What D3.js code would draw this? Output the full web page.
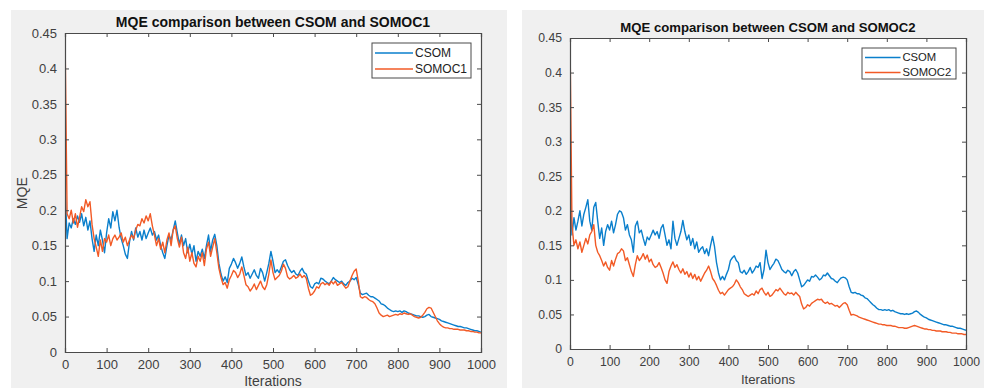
<!DOCTYPE html>
<html>
<head>
<meta charset="utf-8">
<script src="https://cdn.jsdelivr.net/npm/d3@7"></script>
<style>
  html, body { margin: 0; padding: 0; background: #fff; }
  svg { display: block; font-family: "Liberation Sans", Arial, sans-serif; }
</style>
</head>
<body>
<svg id="chart" width="984" height="388"></svg>
<script>
// Iteration index of every stored sample (one every 5 iterations)
const iterations = d3.range(0, 1001, 5);

const xTicks = [0, 100, 200, 300, 400, 500, 600, 700, 800, 900, 1000];
const yTicks = [0, 0.05, 0.1, 0.15, 0.2, 0.25, 0.3, 0.35, 0.4, 0.45];
const yTickLabels = ["0", "0.05", "0.1", "0.15", "0.2", "0.25", "0.3", "0.35", "0.4", "0.45"];

// Panel 1 - CSOM
const csom1 = [
  0.232, 0.160, 0.182, 0.175, 0.188, 0.180, 0.192, 0.183, 0.195, 0.178,
  0.190, 0.172, 0.185, 0.160, 0.142, 0.165, 0.150, 0.172, 0.158, 0.140,
  0.168, 0.188, 0.175, 0.198, 0.185, 0.200, 0.176, 0.160, 0.150, 0.138,
  0.132, 0.155, 0.170, 0.158, 0.175, 0.162, 0.170, 0.158, 0.172, 0.160,
  0.168, 0.175, 0.165, 0.170, 0.158, 0.165, 0.150, 0.140, 0.132, 0.150,
  0.165, 0.158, 0.172, 0.185, 0.168, 0.152, 0.165, 0.150, 0.160, 0.140,
  0.152, 0.138, 0.150, 0.128, 0.142, 0.135, 0.145, 0.132, 0.150, 0.165,
  0.142, 0.158, 0.166, 0.150, 0.125, 0.110, 0.100, 0.106, 0.098, 0.118,
  0.124, 0.132, 0.126, 0.118, 0.125, 0.134, 0.120, 0.108, 0.112, 0.104,
  0.110, 0.116, 0.108, 0.104, 0.118, 0.112, 0.100, 0.112, 0.125, 0.142,
  0.128, 0.112, 0.116, 0.112, 0.120, 0.128, 0.130, 0.122, 0.116, 0.112,
  0.115, 0.110, 0.108, 0.114, 0.118, 0.112, 0.110, 0.100, 0.092, 0.090,
  0.096, 0.098, 0.096, 0.104, 0.103, 0.100, 0.098, 0.096, 0.100, 0.105,
  0.102, 0.100, 0.098, 0.100, 0.096, 0.094, 0.098, 0.100, 0.104, 0.102,
  0.105, 0.095, 0.083, 0.081, 0.082, 0.083, 0.080, 0.078, 0.078, 0.076,
  0.074, 0.072, 0.068, 0.067, 0.065, 0.062, 0.060, 0.058, 0.057, 0.058,
  0.057, 0.058, 0.056, 0.058, 0.057, 0.055, 0.054, 0.053, 0.052, 0.051,
  0.051, 0.050, 0.049, 0.050, 0.052, 0.053, 0.050, 0.049, 0.048, 0.047,
  0.046, 0.044, 0.043, 0.042, 0.041, 0.040, 0.039, 0.038, 0.037, 0.036,
  0.036, 0.035, 0.034, 0.034, 0.033, 0.032, 0.031, 0.030, 0.030, 0.029,
  0.028
];

// Panel 1 - SOMOC1
const somoc1 = [
  0.450, 0.195, 0.188, 0.200, 0.182, 0.195, 0.176, 0.190, 0.205, 0.198,
  0.215, 0.205, 0.212, 0.180, 0.160, 0.148, 0.135, 0.158, 0.142, 0.160,
  0.155, 0.165, 0.150, 0.160, 0.165, 0.158, 0.162, 0.168, 0.155, 0.162,
  0.150, 0.158, 0.165, 0.160, 0.172, 0.180, 0.178, 0.188, 0.182, 0.192,
  0.185, 0.195, 0.178, 0.165, 0.150, 0.160, 0.145, 0.155, 0.140, 0.158,
  0.168, 0.150, 0.172, 0.178, 0.160, 0.148, 0.162, 0.140, 0.132, 0.148,
  0.128, 0.140, 0.125, 0.120, 0.135, 0.128, 0.140, 0.122, 0.145, 0.155,
  0.135, 0.148, 0.160, 0.140, 0.118, 0.105, 0.095, 0.098, 0.090, 0.102,
  0.108, 0.115, 0.112, 0.105, 0.110, 0.120, 0.108, 0.095, 0.092, 0.086,
  0.090, 0.096, 0.088, 0.094, 0.100, 0.092, 0.088, 0.095, 0.110, 0.130,
  0.112, 0.102, 0.105, 0.108, 0.114, 0.124, 0.118, 0.106, 0.103, 0.105,
  0.108, 0.104, 0.106, 0.110, 0.105, 0.108, 0.104, 0.090, 0.080, 0.082,
  0.086, 0.092, 0.090, 0.096, 0.098, 0.095, 0.097, 0.094, 0.100, 0.096,
  0.100, 0.094, 0.096, 0.098, 0.094, 0.090, 0.092, 0.100, 0.108, 0.114,
  0.117, 0.100, 0.078, 0.076, 0.078, 0.077, 0.074, 0.072, 0.071, 0.068,
  0.062, 0.055, 0.052, 0.050, 0.051, 0.052, 0.050, 0.051, 0.052, 0.053,
  0.052, 0.054, 0.053, 0.055, 0.054, 0.053, 0.054, 0.052, 0.050, 0.049,
  0.048, 0.049, 0.052, 0.056, 0.061, 0.063, 0.062, 0.056, 0.050, 0.044,
  0.040, 0.037, 0.035, 0.034, 0.034, 0.033, 0.033, 0.032, 0.032, 0.032,
  0.031, 0.031, 0.031, 0.030, 0.030, 0.029, 0.029, 0.028, 0.028, 0.027,
  0.027
];

// Panel 2 - CSOM
const csom2 = [
  0.235, 0.165, 0.190, 0.172, 0.185, 0.200, 0.178, 0.195, 0.205, 0.216,
  0.185, 0.172, 0.205, 0.212, 0.185, 0.160, 0.175, 0.150, 0.170, 0.180,
  0.172, 0.185, 0.168, 0.180, 0.195, 0.200, 0.198, 0.190, 0.172, 0.180,
  0.165, 0.158, 0.140, 0.178, 0.185, 0.168, 0.172, 0.160, 0.150, 0.162,
  0.158, 0.165, 0.172, 0.165, 0.170, 0.160, 0.175, 0.180, 0.165, 0.150,
  0.158, 0.145, 0.185, 0.160, 0.150, 0.160, 0.170, 0.186, 0.170, 0.158,
  0.165, 0.150, 0.160, 0.145, 0.155, 0.140, 0.145, 0.148, 0.138, 0.145,
  0.135, 0.150, 0.163, 0.148, 0.125, 0.110, 0.100, 0.105, 0.100, 0.108,
  0.115, 0.128, 0.132, 0.135, 0.128, 0.125, 0.112, 0.110, 0.114, 0.108,
  0.112, 0.118, 0.110, 0.114, 0.120, 0.118, 0.125, 0.102, 0.115, 0.143,
  0.125, 0.115, 0.120, 0.124, 0.130, 0.128, 0.122, 0.115, 0.112, 0.110,
  0.114, 0.112, 0.106, 0.112, 0.115, 0.110, 0.100, 0.090, 0.092, 0.096,
  0.100, 0.098, 0.105, 0.104, 0.107, 0.104, 0.100, 0.102, 0.107, 0.106,
  0.110, 0.106, 0.102, 0.101, 0.098, 0.096, 0.100, 0.103, 0.104, 0.103,
  0.100, 0.090, 0.082, 0.081, 0.082, 0.080, 0.080, 0.078, 0.077, 0.074,
  0.073, 0.070, 0.067, 0.064, 0.062, 0.059, 0.057, 0.057, 0.056, 0.057,
  0.056, 0.057, 0.055, 0.056, 0.054, 0.053, 0.052, 0.051, 0.051, 0.050,
  0.051, 0.050, 0.051, 0.052, 0.054, 0.055, 0.053, 0.050, 0.048, 0.046,
  0.045, 0.043, 0.042, 0.041, 0.040, 0.039, 0.038, 0.037, 0.036, 0.035,
  0.035, 0.034, 0.033, 0.033, 0.032, 0.031, 0.030, 0.030, 0.029, 0.028,
  0.027
];

// Panel 2 - SOMOC2
const somoc2 = [
  0.450, 0.180, 0.150, 0.158, 0.145, 0.155, 0.140, 0.150, 0.160, 0.152,
  0.165, 0.170, 0.180, 0.150, 0.140, 0.135, 0.128, 0.120, 0.126, 0.118,
  0.114, 0.128, 0.120, 0.130, 0.138, 0.140, 0.145, 0.142, 0.128, 0.132,
  0.122, 0.112, 0.105, 0.122, 0.135, 0.128, 0.132, 0.138, 0.130, 0.136,
  0.126, 0.130, 0.122, 0.118, 0.120, 0.125, 0.118, 0.110, 0.100, 0.095,
  0.112, 0.120, 0.126, 0.118, 0.122, 0.115, 0.110, 0.116, 0.108, 0.112,
  0.104, 0.110, 0.102, 0.108, 0.100, 0.105, 0.098, 0.104, 0.110, 0.114,
  0.120, 0.112, 0.102, 0.098, 0.092, 0.085, 0.080, 0.082, 0.078, 0.082,
  0.086, 0.088, 0.090, 0.094, 0.100, 0.096, 0.090, 0.086, 0.080, 0.078,
  0.076, 0.078, 0.080, 0.078, 0.084, 0.080, 0.086, 0.088, 0.082, 0.078,
  0.082, 0.076, 0.078, 0.082, 0.086, 0.084, 0.088, 0.084, 0.080, 0.078,
  0.082, 0.080, 0.081, 0.078, 0.082, 0.079, 0.076, 0.065, 0.058, 0.060,
  0.064, 0.062, 0.066, 0.068, 0.070, 0.072, 0.071, 0.072, 0.068, 0.066,
  0.068, 0.065, 0.066, 0.064, 0.062, 0.063, 0.060, 0.063, 0.066, 0.067,
  0.064, 0.056, 0.049, 0.050, 0.049, 0.048, 0.046, 0.045, 0.044, 0.043,
  0.042, 0.041, 0.040, 0.039, 0.038, 0.037, 0.036, 0.036, 0.035, 0.035,
  0.034, 0.034, 0.034, 0.033, 0.033, 0.032, 0.031, 0.031, 0.031, 0.030,
  0.030, 0.031, 0.032, 0.033, 0.034, 0.033, 0.032, 0.031, 0.030, 0.029,
  0.029, 0.028, 0.028, 0.027, 0.027, 0.026, 0.026, 0.026, 0.025, 0.025,
  0.025, 0.024, 0.024, 0.023, 0.023, 0.023, 0.022, 0.022, 0.022, 0.021,
  0.021
];

const blue = "#0a7fcc";
const orange = "#f25a26";
const axisColor = "#4a4a4a";

const svg = d3.select("#chart");

// One MATLAB-style figure panel
function drawPanel(cfg) {
  const g = svg.append("g");
  const k = cfg.scale; // text size factor of this panel

  // grey figure background
  g.append("rect")
    .attr("x", cfg.bg[0])
    .attr("y", cfg.bg[1])
    .attr("width", cfg.bg[2])
    .attr("height", cfg.bg[3])
    .attr("fill", "#f0f0f0");

  const x = d3.scaleLinear().domain([0, 1000]).range([cfg.left, cfg.right]);
  const y = d3.scaleLinear().domain([0, 0.45]).range([cfg.bottom, cfg.top]);

  // white axes area
  g.append("rect")
    .attr("x", cfg.left)
    .attr("y", cfg.top)
    .attr("width", cfg.right - cfg.left)
    .attr("height", cfg.bottom - cfg.top)
    .attr("fill", "#fff");

  const line = d3.line()
    .x((d, i) => x(iterations[i]))
    .y((d) => y(d));

  const clipId = "clip" + cfg.id;
  g.append("clipPath")
    .attr("id", clipId)
    .append("rect")
    .attr("x", cfg.left)
    .attr("y", cfg.top)
    .attr("width", cfg.right - cfg.left)
    .attr("height", cfg.bottom - cfg.top);

  const lines = g.append("g").attr("clip-path", `url(#${clipId})`);
  lines.append("path")
    .datum(cfg.series[0])
    .attr("d", line)
    .attr("fill", "none")
    .attr("stroke", blue)
    .attr("stroke-width", 1.4)
    .attr("stroke-linejoin", "round");
  lines.append("path")
    .datum(cfg.series[1])
    .attr("d", line)
    .attr("fill", "none")
    .attr("stroke", orange)
    .attr("stroke-width", 1.4)
    .attr("stroke-linejoin", "round");

  // axes (ticks inward, box on)
  const tickLen = 4;
  const axB = d3.axisBottom(x).tickValues(xTicks).tickSize(-tickLen).tickPadding(8).tickFormat(d3.format("d"));
  const axT = d3.axisTop(x).tickValues(xTicks).tickSize(-tickLen).tickFormat("");
  const axL = d3.axisLeft(y).tickValues(yTicks).tickSize(-tickLen).tickPadding(8)
    .tickFormat((d, i) => yTickLabels[i]);
  const axR = d3.axisRight(y).tickValues(yTicks).tickSize(-tickLen).tickFormat("");

  const axes = [
    [axB, `translate(0,${cfg.bottom})`],
    [axT, `translate(0,${cfg.top})`],
    [axL, `translate(${cfg.left},0)`],
    [axR, `translate(${cfg.right},0)`],
  ];
  axes.forEach(([ax, tr]) => {
    const a = g.append("g").attr("transform", tr).call(ax);
    a.select(".domain").attr("stroke", axisColor).attr("stroke-width", 1.2);
    a.selectAll(".tick line").attr("stroke", axisColor);
    a.selectAll(".tick text")
      .attr("fill", "#404040")
      .attr("font-size", 13 * k)
      .attr("font-family", "Liberation Sans, Arial, sans-serif");
  });

  // title
  g.append("text")
    .attr("x", (cfg.left + cfg.right) / 2)
    .attr("y", cfg.top - 6)
    .attr("text-anchor", "middle")
    .attr("font-size", 14 * k)
    .attr("font-weight", "bold")
    .attr("fill", "#111")
    .text(cfg.title);

  // x label
  g.append("text")
    .attr("x", (cfg.left + cfg.right) / 2)
    .attr("y", cfg.bottom + cfg.xlabelGap)
    .attr("text-anchor", "middle")
    .attr("font-size", 14 * k)
    .attr("fill", "#404040")
    .text("Iterations");

  // y label
  if (cfg.ylabel) {
    g.append("text")
      .attr("transform", `translate(${cfg.left - 38},${y(0.2) - 17}) rotate(-90)`)
      .attr("text-anchor", "middle")
      .attr("font-size", 14 * k)
      .attr("fill", "#404040")
      .text(cfg.ylabel);
  }

  // legend
  const lg = g.append("g").attr("transform", `translate(${cfg.legend[0]},${cfg.legend[1]})`);
  lg.append("rect")
    .attr("width", cfg.legend[2])
    .attr("height", cfg.legend[3])
    .attr("fill", "#fff")
    .attr("stroke", axisColor)
    .attr("stroke-width", 1);
  cfg.labels.forEach((lab, i) => {
    const yy = (10 + i * 16) * k;
    lg.append("line")
      .attr("x1", 3)
      .attr("x2", 41 * k)
      .attr("y1", yy)
      .attr("y2", yy)
      .attr("stroke", i === 0 ? blue : orange)
      .attr("stroke-width", 1.5);
    lg.append("text")
      .attr("x", 43 * k)
      .attr("y", yy)
      .attr("dy", "0.35em")
      .attr("font-size", 12 * k)
      .attr("fill", "#222")
      .text(lab);
  });
}

drawPanel({
  id: 1,
  scale: 1,
  bg: [11, 10, 496, 378],
  left: 65, right: 481, top: 33, bottom: 352,
  xlabelGap: 34,
  title: "MQE comparison between CSOM and SOMOC1",
  ylabel: "MQE",
  labels: ["CSOM", "SOMOC1"],
  series: [csom1, somoc1],
  legend: [372, 43, 99, 35],
});

drawPanel({
  id: 2,
  scale: 0.94,
  bg: [522, 10, 462, 378],
  left: 570, right: 966, top: 38, bottom: 349,
  xlabelGap: 35,
  title: "MQE comparison between CSOM and SOMOC2",
  ylabel: null,
  labels: ["CSOM", "SOMOC2"],
  series: [csom2, somoc2],
  legend: [862, 48, 94, 31],
});
</script>
</body>
</html>
